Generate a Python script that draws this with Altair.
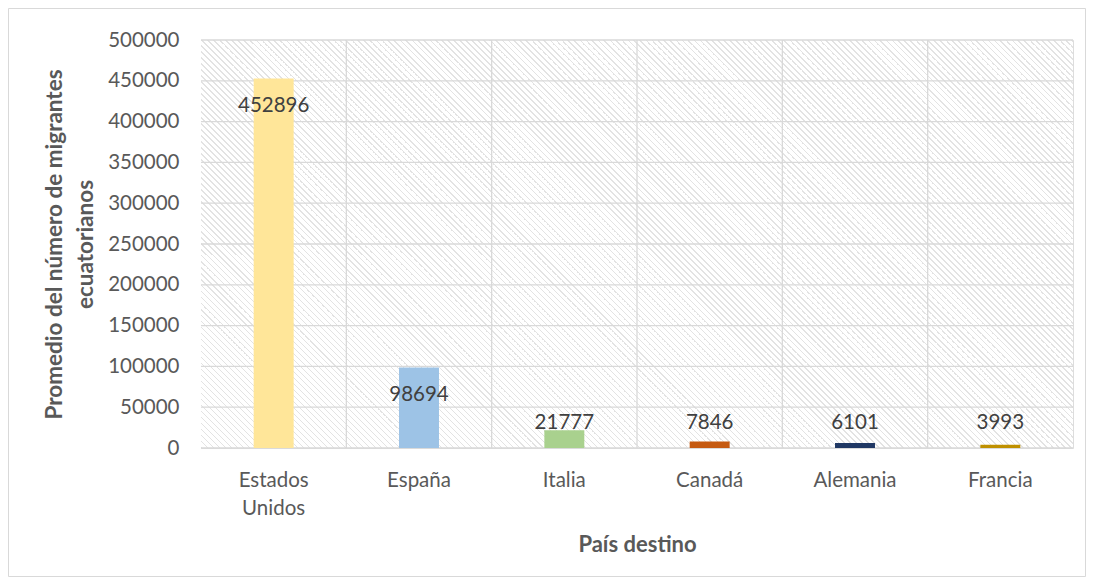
import altair as alt
import pandas as pd

# ---- data ----
paises = ["Estados Unidos", "España", "Italia", "Canadá", "Alemania", "Francia"]
promedios = [452896, 98694, 21777, 7846, 6101, 3993]
colores = ["#FFE699", "#9DC3E6", "#A9D18E", "#C55A11", "#203864", "#BF9000"]
y_ticks = list(range(0, 500001, 50000))
separadores = [1, 2, 3, 4, 5]

# ---- layout ----
W, H = 872, 408
FONT = "Lato"
GRID = "#d9d9d9"
TXT = "#595959"

df = pd.DataFrame({"pais": paises, "valor": promedios, "color": colores})
df_ticks = pd.DataFrame({"t": y_ticks})
df_sep = pd.DataFrame({"b": separadores})

# ---- diagonal hatch as a striped linear gradient ----
L = W + H
period = 6.0
lw = 1.5
grey = "#e3e3e3"
white = "#ffffff"
stops = []
i = 0
while i * period < L:
    s = i * period / L
    e = min((i * period + lw) / L, 1.0)
    nxt = min((i + 1) * period / L, 1.0)
    stops += [
        alt.GradientStop(offset=s, color=grey),
        alt.GradientStop(offset=e, color=grey),
        alt.GradientStop(offset=e, color=white),
        alt.GradientStop(offset=nxt, color=white),
    ]
    i += 1
k = (W + H) / (W * W + H * H)
grad = alt.LinearGradient(
    gradient="linear", stops=stops,
    x1=0, y1=1, x2=W * k, y2=1 - H * k,
)

yscale = alt.Scale(domain=[0, 500000], nice=False)
yaxis = alt.Axis(
    title=["Promedio del número de migrantes", "ecuatorianos"],
    values=y_ticks, format="d", grid=False, domain=False, ticks=False,
    labelFont=FONT, labelFontSize=20.5, labelColor=TXT, labelPadding=22,
    titleFont=FONT, titleFontSize=22.5, titleFontWeight="bold", titleColor=TXT,
    titlePadding=10, titleLineHeight=31,
)

bg = alt.Chart(alt.Data(values=[{"a": 1}])).mark_rect(fill=grad).encode(
    x=alt.value(0), x2=alt.value(W), y=alt.value(0), y2=alt.value(H)
)

frame = alt.Chart(alt.Data(values=[{"a": 1}])).mark_rect(
    fill="transparent", stroke=GRID, strokeWidth=1
).encode(
    x=alt.value(-192.5), x2=alt.value(884.5), y=alt.value(-31.5), y2=alt.value(536.5)
)

hgrid = alt.Chart(df_ticks).mark_rule(color=GRID, strokeWidth=1.3).encode(
    y=alt.Y("t:Q", scale=yscale, axis=yaxis)
)

vgrid = alt.Chart(df_sep).mark_rule(color=GRID, strokeWidth=1.3).encode(
    x=alt.X("b:Q", scale=alt.Scale(domain=[0, 6], nice=False), axis=None)
)

xaxis = alt.Axis(
    title="País destino", labelAngle=0, domain=False, ticks=False,
    labelExpr="split(datum.label, ' ')", labelLineHeight=28,
    labelFont=FONT, labelFontSize=20.5, labelColor=TXT, labelPadding=22,
    titleFont=FONT, titleFontSize=22, titleFontWeight="bold", titleColor=TXT,
    titlePadding=16,
)
xscale = alt.Scale(paddingInner=0.725, paddingOuter=0.3625)

bars = alt.Chart(df).mark_bar().encode(
    x=alt.X("pais:N", sort=paises, scale=xscale, axis=xaxis),
    y=alt.Y("valor:Q", scale=yscale, axis=yaxis),
    color=alt.Color("color:N", scale=None),
)

labels = alt.Chart(df).transform_calculate(
    ly="max(datum.valor - 34314, 30637)"
).mark_text(baseline="middle", align="center", font=FONT, fontSize=20.5, color="#404040").encode(
    x=alt.X("pais:N", sort=paises, scale=xscale, axis=xaxis),
    y=alt.Y("ly:Q", scale=yscale, axis=yaxis),
    text=alt.Text("valor:Q", format="d"),
)

main = alt.layer(hgrid, bars, labels)

chart = alt.layer(bg, vgrid, main, frame).resolve_scale(
    x="independent"
).properties(
    width=W, height=H,
    autosize=alt.AutoSizeParams(type="none"),
    padding={"left": 193, "top": 32, "right": 13, "bottom": 131},
).configure_view(stroke=GRID, strokeWidth=1.5).configure(background="white")

chart.save("out.html", embed_options={"renderer": "svg", "actions": False})
